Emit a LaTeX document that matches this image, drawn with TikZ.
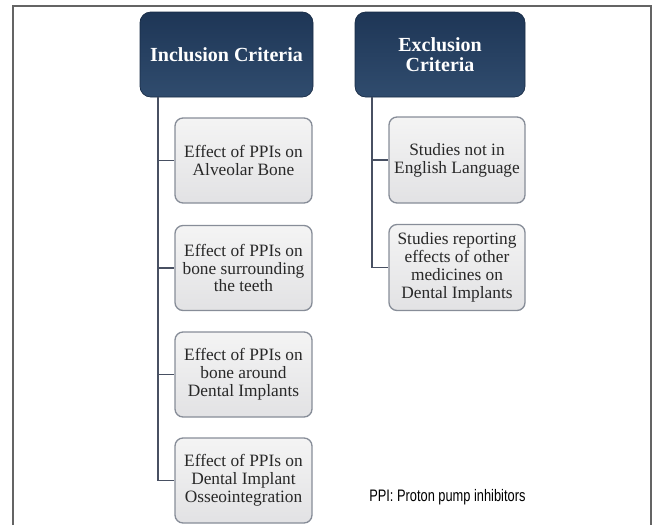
\documentclass[tikz,border=0pt]{standalone}
\usepackage{fontspec}
\setmainfont{Liberation Serif}
\newfontfamily\capfont{Liberation Sans}
\definecolor{hdtop}{RGB}{30,54,86}
\definecolor{hdbot}{RGB}{48,76,110}
\definecolor{bxtop}{RGB}{244,244,244}
\definecolor{bxbot}{RGB}{226,226,228}
\definecolor{bxline}{RGB}{135,141,152}
\definecolor{connc}{RGB}{72,80,98}
\definecolor{txtc}{RGB}{40,40,40}
\definecolor{framec}{RGB}{100,100,100}
\tikzset{
  hdr/.style={rectangle, rounded corners=8pt, top color=hdtop, bottom color=hdbot,
    draw=hdtop!80!black, line width=0.5pt, text=white, align=center,
    font=\fontsize{15}{15.5}\selectfont\bfseries, inner sep=0pt},
  child/.style={rectangle, rounded corners=6pt, top color=bxtop, bottom color=bxbot,
    draw=bxline, line width=1pt, text=txtc, align=center,
    font=\fontsize{13}{13.4}\selectfont, inner sep=0pt},
  conn/.style={draw=connc, line width=1.4pt},
  framel/.style={draw=framec, line width=1.5pt}
}
\begin{document}
\begin{tikzpicture}[x=0.75pt,y=-0.75pt]
\useasboundingbox (0,0) rectangle (652,525);
% frame
\coordinate (fl) at (12.5,525);
\coordinate (ftl) at (12.5,6);
\coordinate (ftr) at (651,6);
\coordinate (fr) at (651,525);
\draw[framel] (fl) -- (ftl) -- (ftr) -- (fr);
% headers
\node[hdr, minimum width=129.75pt, minimum height=63.75pt] (ih) at (226.5,54.5) {Inclusion Criteria};
\node[hdr, minimum width=127.5pt, minimum height=63.75pt] (eh) at (440,54.5) {Exclusion\\Criteria};
% inclusion children
\node[child, minimum width=102.75pt, minimum height=63.75pt] (i1) at (243.5,160.5) {Effect of PPIs on\\Alveolar Bone};
\node[child, minimum width=102.75pt, minimum height=63.75pt] (i2) at (243.5,268) {Effect of PPIs on\\bone surrounding\\the teeth};
\node[child, minimum width=102.75pt, minimum height=63.75pt] (i3) at (243.5,374.5) {Effect of PPIs on\\bone around\\Dental Implants};
\node[child, minimum width=102.75pt, minimum height=63.75pt] (i4) at (243.5,480.5) {Effect of PPIs on\\Dental Implant\\Osseointegration};
% exclusion children
\node[child, minimum width=102pt, minimum height=64.5pt] (e1) at (457,160) {Studies not in\\English Language};
\node[child, minimum width=102pt, minimum height=64.5pt] (e2) at (457,267.5) {Studies reporting\\effects of other\\medicines on\\Dental Implants};
% connectors
\coordinate (itr) at (158,0);
\coordinate (etr) at (372,0);
\draw[conn] (ih.south -| itr) |- (i4.west);
\draw[conn] (i1.west -| itr) -- (i1.west);
\draw[conn] (i2.west -| itr) -- (i2.west);
\draw[conn] (i3.west -| itr) -- (i3.west);
\draw[conn] (eh.south -| etr) |- (e2.west);
\draw[conn] (e1.west -| etr) -- (e1.west);
% caption
\node[anchor=west, inner sep=0pt, text=black] (cap) at (369,497) {\capfont\fontsize{12.5}{14}\selectfont\scalebox{0.77}[1]{PPI: Proton pump inhibitors}};
\end{tikzpicture}
\end{document}
